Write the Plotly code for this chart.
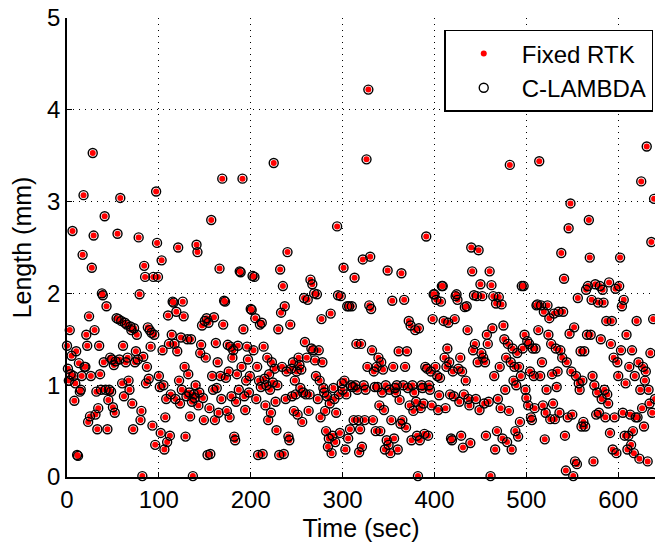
import plotly.graph_objects as go

time_sec = list(range(0, 641))

fixed_rtk_mm = [
    1.43, 1.18, 1.05, 1.60, 1.12, 1.32, 2.68, 1.10, 0.83, 1.02,
    1.37, 0.24, 0.23, 1.24, 0.93, 0.95, 1.10, 2.42, 3.07, 1.20,
    1.20, 1.55, 1.43, 0.60, 1.75, 0.66, 1.10, 2.28, 3.53, 2.63,
    1.60, 0.68, 0.93, 0.52, 0.75, 1.43, 1.12, 0.95, 2.00, 1.98,
    1.25, 2.84, 0.95, 1.86, 0.52, 0.84, 0.95, 1.30, 0.93, 1.28,
    0.76, 1.22, 0.70, 1.26, 1.73, 2.65, 1.72, 1.28, 3.04, 1.70,
    1.02, 1.43, 0.88, 1.68, 1.25, 1.66, 1.30, 1.05, 0.95, 1.64,
    1.60, 0.80, 0.52, 1.62, 1.25, 1.37, 1.55, 1.28, 2.61, 1.99,
    0.62, 0.72, 0.01, 1.31, 2.30, 2.18, 1.02, 1.20, 1.63, 1.07,
    1.60, 1.42, 1.57, 0.56, 2.18, 1.55, 0.35, 3.11, 2.55, 2.18,
    1.10, 0.98, 0.48, 2.36, 1.38, 1.00, 0.30, 0.65, 0.85, 0.38,
    1.76, 1.45, 0.45, 0.90, 1.55, 1.91, 1.90, 1.45, 0.85, 1.80,
    1.37, 2.50, 1.05, 0.80, 1.52, 0.95, 1.91, 1.75, 1.20, 0.44,
    0.88, 1.50, 1.12, 0.92, 0.66, 1.50, 0.82, 0.01, 0.90, 0.86,
    1.00, 2.53, 2.45, 0.78, 0.92, 1.35, 1.44, 1.65, 0.86, 0.62,
    1.70, 1.30, 1.73, 0.24, 1.68, 0.75, 0.25, 2.80, 1.10, 0.95,
    1.74, 0.62, 1.46, 0.97, 1.25, 0.70, 2.27, 1.10, 0.85, 3.25,
    1.66, 1.92, 1.91, 1.08, 0.72, 1.44, 1.15, 0.65, 1.42, 0.88,
    1.30, 1.38, 0.44, 0.40, 0.82, 1.12, 1.43, 0.95, 2.24, 2.23,
    1.20, 3.25, 1.61, 0.88, 0.73, 1.05, 1.42, 1.28, 0.92, 1.10,
    1.83, 1.82, 2.19, 1.38, 2.18, 1.73, 0.85, 1.20, 0.24, 1.05,
    1.66, 0.98, 1.68, 0.25, 1.42, 1.07, 0.78, 1.00, 1.30, 0.62,
    1.12, 0.95, 0.70, 1.25, 1.03, 3.42, 1.18, 0.82, 0.51, 1.00,
    1.61, 0.24, 2.26, 1.79, 1.20, 2.08, 0.25, 1.86, 0.85, 1.15,
    2.45, 0.44, 0.40, 1.66, 1.18, 0.88, 1.25, 0.72, 1.05, 0.90,
    1.15, 0.68, 1.30, 1.22, 0.97, 1.17, 0.60, 0.92, 1.95, 1.47,
    0.90, 1.30, 1.93, 0.72, 0.90, 2.15, 1.40, 2.10, 1.38, 2.00,
    1.27, 1.10, 1.99, 0.85, 1.38, 1.05, 0.65, 1.72, 1.25, 0.97,
    0.92, 0.72, 0.50, 0.88, 0.33, 0.42, 0.80, 1.78, 0.26, 0.45,
    0.97, 0.85, 0.38, 0.70, 2.73, 1.98, 0.90, 0.48, 1.97, 1.02,
    0.95, 2.28, 1.05, 0.30, 0.90, 1.86, 0.42, 1.86, 0.52, 1.00,
    1.86, 0.98, 0.62, 2.17, 1.00, 1.45, 0.95, 0.62, 0.27, 0.52,
    1.45, 0.33, 2.37, 1.00, 0.62, 0.95, 3.46, 1.20, 4.22, 1.87,
    2.40, 1.83, 1.38, 0.62, 1.15, 0.98, 0.50, 1.20, 0.98, 1.30,
    0.78, 0.50, 1.25, 0.92, 1.17, 0.73, 0.30, 1.00, 0.40, 2.25,
    0.35, 0.95, 0.26, 0.62, 1.92, 1.20, 0.42, 0.97, 0.92, 1.00,
    0.30, 1.37, 0.84, 0.58, 2.22, 0.62, 1.00, 1.93, 1.20, 0.54,
    1.37, 0.97, 1.70, 0.78, 1.65, 0.40, 1.00, 0.72, 0.92, 1.60,
    0.82, 0.45, 0.01, 1.62, 0.40, 0.75, 1.00, 0.97, 0.80, 0.47,
    1.20, 2.62, 1.18, 0.45, 1.00, 0.95, 1.15, 0.78, 1.72, 1.99,
    1.99, 1.20, 1.93, 1.10, 0.73, 0.89, 1.08, 1.91, 2.08, 2.08,
    1.70, 1.30, 0.75, 1.20, 1.40, 1.68, 1.25, 0.90, 0.42, 0.40,
    1.15, 0.88, 1.72, 1.97, 1.99, 1.93, 1.18, 0.82, 1.30, 0.45,
    1.15, 0.32, 0.90, 1.85, 1.05, 1.86, 1.60, 0.85, 0.78, 0.37,
    2.50, 2.24, 1.38, 1.98, 1.45, 0.85, 1.97, 1.25, 2.47, 0.73,
    2.10, 1.35, 1.97, 1.30, 0.80, 1.25, 0.45, 1.55, 1.45, 0.82,
    2.24, 0.01, 2.09, 1.62, 1.97, 1.10, 0.30, 1.89, 0.50, 0.85,
    1.96, 1.20, 0.75, 1.88, 0.42, 1.65, 1.50, 0.95, 1.30, 0.38,
    1.45, 0.72, 3.40, 1.25, 0.30, 1.40, 1.05, 1.20, 0.50, 1.00,
    1.35, 0.44, 1.20, 0.60, 1.10, 2.08, 1.40, 2.08, 1.55, 0.95,
    0.86, 1.48, 0.78, 1.45, 1.15, 0.65, 0.62, 1.40, 1.10, 0.75,
    1.40, 1.87, 1.88, 1.60, 3.44, 1.10, 1.87, 1.25, 0.78, 1.80,
    0.41, 0.70, 0.95, 1.87, 1.55, 1.73, 0.63, 1.45, 1.12, 0.80,
    1.78, 0.63, 1.40, 0.98, 1.15, 1.80, 0.70, 1.38, 2.44, 1.30,
    1.80, 2.16, 0.45, 0.07, 1.25, 0.65, 2.71, 1.56, 2.98, 1.15,
    0.68, 0.01, 1.63, 0.17, 1.10, 0.14, 1.95, 1.02, 0.95, 1.37,
    0.55, 1.05, 0.60, 1.37, 0.55, 2.04, 1.55, 2.08, 2.80, 2.39,
    1.55, 1.93, 1.10, 0.17, 1.00, 2.10, 0.68, 0.92, 1.90, 0.70,
    2.08, 1.50, 0.85, 2.04, 1.90, 0.95, 0.65, 1.70, 0.90, 0.80,
    2.12, 0.48, 1.45, 1.70, 0.30, 1.30, 0.65, 2.05, 0.26, 1.25,
    1.10, 2.08, 2.39, 1.38, 1.86, 0.70, 1.93, 0.45, 1.02, 1.55,
    0.30, 0.45, 1.20, 0.68, 0.35, 1.38, 0.50, 0.26, 1.10, 0.65,
    1.70, 0.65, 1.25, 0.20, 0.95, 3.22, 0.75, 1.20, 0.55, 1.05,
    1.15, 3.60, 0.17, 0.95, 0.80, 1.35, 2.56, 0.70, 1.72, 3.03,
    0.85,
]

c_lambda_mm = list(fixed_rtk_mm)

x_tick_vals = [0, 100, 200, 300, 400, 500, 600]
y_tick_vals = [0, 1, 2, 3, 4, 5]

FONT = "Liberation Sans, Arial, Helvetica, sans-serif"

fig = go.Figure()
fig.add_trace(go.Scatter(
    x=time_sec, y=fixed_rtk_mm, mode="markers", name="Fixed RTK",
    marker=dict(symbol="circle", size=6, color="#ff0000", line=dict(width=0)),
    cliponaxis=False,
))
fig.add_trace(go.Scatter(
    x=time_sec, y=c_lambda_mm, mode="markers", name="C-LAMBDA",
    marker=dict(symbol="circle-open", size=9, color="#000000", line=dict(width=1.4)),
    cliponaxis=False,
))

axis_common = dict(
    showline=True, linecolor="black", linewidth=1.5,
    ticks="inside", ticklen=5, tickcolor="black", tickwidth=1,
    showgrid=True, gridcolor="black", gridwidth=1, griddash="1px,5px",
    zeroline=False, mirror=False,
    tickfont=dict(family=FONT, size=24, color="black"),
)

fig.update_layout(
    width=655, height=548,
    margin=dict(l=67, r=0, t=18, b=71),
    paper_bgcolor="white", plot_bgcolor="white",
    font=dict(family=FONT, color="black"),
    showlegend=True,
    legend=dict(
        x=0.997, y=0.974, xanchor="right", yanchor="top",
        bgcolor="white", bordercolor="black", borderwidth=1.5,
        font=dict(family=FONT, size=24, color="black"),
        itemwidth=66, tracegroupgap=0,
    ),
    xaxis=dict(
        range=[0, 640], tickvals=x_tick_vals,
        title=dict(text="Time (sec)", font=dict(family=FONT, size=25, color="black"), standoff=8),
        **axis_common,
    ),
    yaxis=dict(
        range=[0, 5], tickvals=y_tick_vals,
        title=dict(text="Length (mm)", font=dict(family=FONT, size=25, color="black"), standoff=8),
        **axis_common,
    ),
)

fig.write_html("out.html")
